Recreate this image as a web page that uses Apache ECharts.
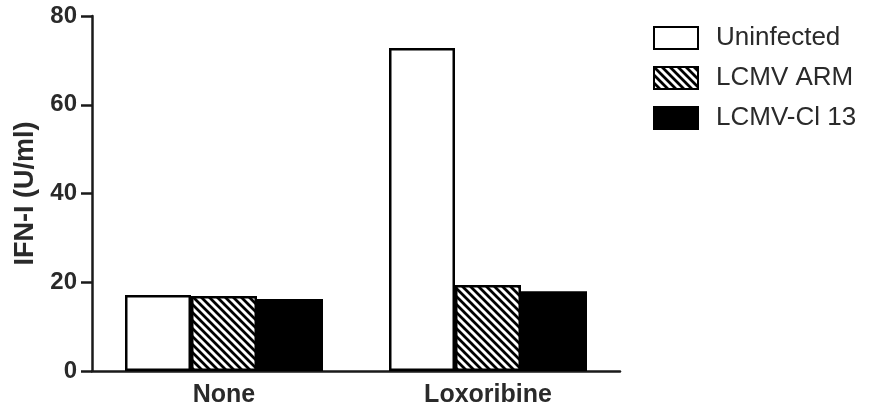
<!DOCTYPE html>
<html><head><meta charset="utf-8">
<script src="https://cdn.jsdelivr.net/npm/echarts@6/dist/echarts.min.js"></script>
<style>html,body{margin:0;padding:0;background:#fff}#c{width:877px;height:410px}</style>
</head><body><div id="c"></div>
<script>
const categories = ['None', 'Loxoribine'];
const seriesNames = ['Uninfected', 'LCMV ARM', 'LCMV-Cl 13'];
const uninfected = [17.1, 72.8];
const lcmvArm = [16.9, 19.4];
const lcmvCl13 = [16.2, 18.0];
const yTicks = [0, 20, 40, 60, 80];

function hatch() {
  const s = 8;
  const c = document.createElement('canvas');
  c.width = s; c.height = s;
  const g = c.getContext('2d');
  g.fillStyle = '#fff'; g.fillRect(0, 0, s, s);
  g.strokeStyle = '#000'; g.lineWidth = 2.8;
  g.beginPath();
  for (let k = -1; k <= 1; k++) {
    g.moveTo(k * s - 1, -1); g.lineTo(k * s + s + 1, s + 1);
  }
  g.stroke();
  return c;
}
const pat = { image: hatch(), repeat: 'repeat' };

const chart = echarts.init(document.getElementById('c'));
const font = 'Liberation Sans, Arial, sans-serif';
const border = { borderColor: '#000', borderWidth: 2.5 };
chart.setOption({
  animation: false,
  grid: { left: 92, right: 257, top: 16, bottom: 39 },
  legend: {
    orient: 'vertical', left: 648, top: 20, itemWidth: 44, itemHeight: 22, itemGap: 14,
    icon: 'rect',
    data: seriesNames,
    textStyle: { fontFamily: font, fontSize: 26, color: '#2a2a2a', lineHeight: 22, padding: [0, 0, 0, 13] }
  },
  xAxis: {
    type: 'category', data: categories,
    axisLine: { lineStyle: { color: '#1a1a1a', width: 2.5 } },
    axisTick: { show: false },
    axisLabel: { fontFamily: font, fontSize: 25, fontWeight: 'bold', color: '#2a2a2a', margin: 12 }
  },
  yAxis: {
    type: 'value', min: yTicks[0], max: yTicks[yTicks.length - 1], interval: 20,
    name: 'IFN-I (U/ml)', nameLocation: 'middle', nameGap: 51, nameRotate: 90,
    nameTextStyle: { fontFamily: font, fontSize: 27, fontWeight: 'bold', color: '#2a2a2a' },
    axisLine: { show: true, lineStyle: { color: '#1a1a1a', width: 2.5 } },
    axisTick: { show: true, length: 11, lineStyle: { color: '#1a1a1a', width: 2.5 } },
    splitLine: { show: false },
    axisLabel: { fontFamily: font, fontSize: 24, fontWeight: 'bold', color: '#2a2a2a', margin: 15 }
  },
  series: [
    { name: seriesNames[0], type: 'bar', data: uninfected, barGap: '0%', barCategoryGap: '25%',
      itemStyle: Object.assign({ color: '#fff' }, border) },
    { name: seriesNames[1], type: 'bar', data: lcmvArm, barGap: '0%', barCategoryGap: '25%',
      itemStyle: Object.assign({ color: pat }, border) },
    { name: seriesNames[2], type: 'bar', data: lcmvCl13, barGap: '0%', barCategoryGap: '25%',
      itemStyle: Object.assign({ color: '#000' }, border) }
  ]
});
</script></body></html>
